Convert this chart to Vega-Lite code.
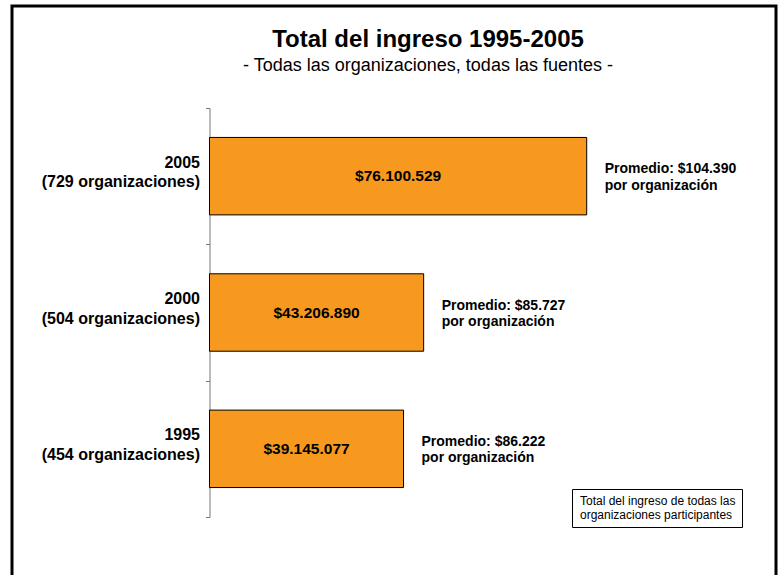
{
  "$schema": "https://vega.github.io/schema/vega-lite/v6.json",
  "width": 764,
  "height": 575,
  "autosize": "none",
  "padding": {"left": 12, "top": 6, "right": 3, "bottom": -6},
  "background": "white",
  "title": {
    "text": "Total del ingreso 1995-2005",
    "subtitle": "- Todas las organizaciones, todas las fuentes -",
    "anchor": "middle",
    "frame": "group",
    "orient": "top",
    "offset": -77,
    "dx": 34,
    "fontSize": 24,
    "fontWeight": "bold",
    "color": "black",
    "subtitleFontSize": 18,
    "subtitleColor": "black",
    "subtitlePadding": 5,
    "font": "Liberation Sans",
    "subtitleFont": "Liberation Sans"
  },
  "data": {
    "values": [
      {"etiqueta": "2005 (729 organizaciones)", "ingreso": 76100529, "promedio": 104390},
      {"etiqueta": "2000 (504 organizaciones)", "ingreso": 43206890, "promedio": 85727},
      {"etiqueta": "1995 (454 organizaciones)", "ingreso": 39145077, "promedio": 86222}
    ]
  },
  "encoding": {
    "y": {
      "field": "etiqueta",
      "type": "nominal",
      "sort": null,
      "scale": {"range": [102, 511], "paddingInner": 0, "paddingOuter": 0},
      "axis": {
        "title": null,
        "tickBand": "extent",
        "offset": -197.5,
        "labelExpr": "[slice(datum.label, 0, 4), slice(datum.label, 5)]",
        "labelFontSize": 16,
        "labelFontWeight": "bold",
        "labelColor": "black",
        "labelLineHeight": 19.5,
        "labelOffset": -14,
        "labelPadding": 6,
        "labelLimit": 300,
        "labelAlign": "right",
        "labelBaseline": "middle",
        "tickSize": 4,
        "domainColor": "#777777",
        "tickColor": "#777777",
        "grid": false
      }
    }
  },
  "layer": [
    {
      "mark": {"type": "bar", "height": {"band": 0.568}, "stroke": "black", "strokeWidth": 1},
      "encoding": {
        "x": {
          "field": "ingreso",
          "type": "quantitative",
          "scale": {"domain": [-39846000, 114290000], "nice": false},
          "axis": null
        },
        "x2": {"datum": 0},
        "color": {
          "datum": "Total del ingreso de todas las organizaciones participantes",
          "type": "nominal",
          "scale": {"range": ["#F7991F"]},
          "legend": {
            "title": null,
            "orient": "none",
            "legendX": 560,
            "legendY": 483,
            "strokeColor": "black",
            "fillColor": "white",
            "padding": 6,
            "symbolSize": 0,
            "symbolOpacity": 0,
            "symbolStrokeWidth": 0,
            "labelOffset": -10,
            "labelFontSize": 12,
            "labelColor": "black",
            "labelLimit": 400,
            "labelFont": "Liberation Sans",
            "labelExpr": "[slice(datum.label, 0, 30), slice(datum.label, 31)]"
          }
        }
      }
    },
    {
      "mark": {"type": "text", "fontSize": 15.5, "fontWeight": "bold", "color": "black", "align": "center", "baseline": "middle"},
      "encoding": {
        "x": {
          "field": "ingreso",
          "type": "quantitative",
          "scale": {"domain": [-79692000, 228580000], "nice": false, "zero": false},
          "axis": null
        },
        "text": {"field": "ingreso", "type": "quantitative", "format": "$,d"}
      }
    },
    {
      "mark": {"type": "text", "fontSize": 14, "fontWeight": "bold", "color": "black", "align": "left", "baseline": "middle", "dx": 18, "dy": -7, "lineHeight": 16.5},
      "encoding": {
        "x": {
          "field": "ingreso",
          "type": "quantitative",
          "scale": {"domain": [-39846000, 114290000], "nice": false},
          "axis": null
        },
        "text": {"value": {"expr": "['Promedio: $' + replace(format(datum.promedio, ',d'), ',', '.'), 'por organización']"}}
      }
    }
  ],
  "resolve": {"scale": {"x": "independent"}},
  "config": {
    "font": "Liberation Sans",
    "view": {"stroke": "black", "strokeWidth": 3},
    "locale": {
      "number": {"decimal": ",", "thousands": ".", "grouping": [3], "currency": ["$", ""]}
    }
  }
}
